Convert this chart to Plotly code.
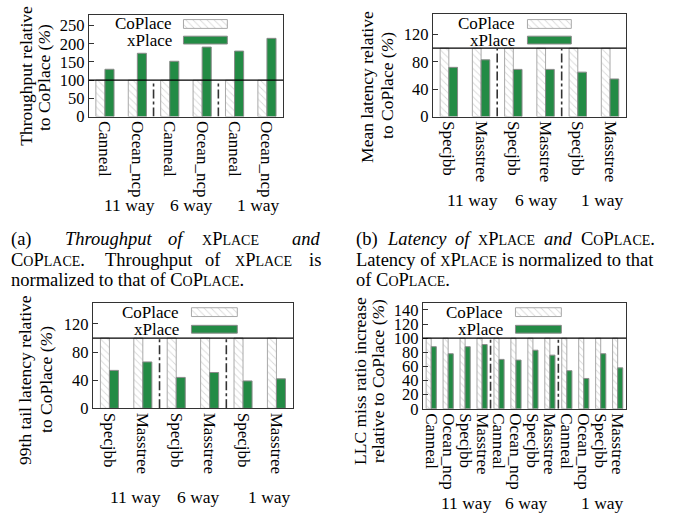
import plotly.graph_objects as go

W, H = 676, 518
FONT = "Liberation Serif"
GREEN = "#238b45"
HATCH = "#b4b4b4"

# ---------------- data ----------------
way_labels = ["11 way", "6 way", "1 way"]

apps_a = ["Canneal", "Ocean_ncp", "Canneal", "Ocean_ncp", "Canneal", "Ocean_ncp"]
coplace_a = [100, 100, 100, 100, 100, 100]
xplace_a = [130, 174, 152, 191, 180, 215]

apps_b = ["Specjbb", "Masstree", "Specjbb", "Masstree", "Specjbb", "Masstree"]
coplace_b = [100, 100, 100, 100, 100, 100]
xplace_b = [72, 83, 69, 69, 65, 55]

apps_c = ["Specjbb", "Masstree", "Specjbb", "Masstree", "Specjbb", "Masstree"]
coplace_c = [100, 100, 100, 100, 100, 100]
xplace_c = [54, 66, 44, 51, 39, 42]

apps_d = ["Canneal", "Ocean_ncp", "Specjbb", "Masstree",
          "Canneal", "Ocean_ncp", "Specjbb", "Masstree",
          "Canneal", "Ocean_ncp", "Specjbb", "Masstree"]
coplace_d = [100] * 12
xplace_d = [88, 78, 88, 91, 70, 69, 83, 76, 54, 43, 78, 58]

yticks_a = [0, 50, 100, 150, 200, 250]
yticks_bc = [0, 40, 80, 120]
yticks_d = [0, 20, 40, 60, 80, 100, 120, 140]

# ---------------- panel geometry (pixels) ----------------
panels = [
    dict(apps=apps_a, co=coplace_a, xp=xplace_a, box=(88, 283, 13, 117.3), ymax=280,
         yticks=yticks_a, bw=0.28,
         title=[("Throughput relative", 25, 75.5), ("to CoPlace (<i>%</i>)", 43, 77)],
         leg_text_x=174, leg_sw=(183, 227), leg_rows=((18, 27), (35, 43)),
         way_y=208, way_x=(129, 191, 258)),
    dict(apps=apps_b, co=coplace_b, xp=xplace_b, box=(433, 627, 12.3, 117.3), ymax=150,
         yticks=yticks_bc, bw=0.27,
         title=[("Mean latency relative", 367, 87), ("to CoPlace (<i>%</i>)", 387, 85)],
         leg_text_x=518, leg_sw=(528, 572), leg_rows=((18, 27), (35, 43)),
         way_y=203, way_x=(473, 537, 603)),
    dict(apps=apps_c, co=coplace_c, xp=xplace_c, box=(92, 293, 308, 416), ymax=150,
         yticks=yticks_bc, bw=0.27,
         title=[("99th tail latency relative", 24, 387), ("to CoPlace (<i>%</i>)", 45, 386)],
         leg_text_x=181, leg_sw=(191, 237), leg_rows=((313, 322), (331, 339)),
         way_y=507, way_x=(135, 198, 269)),
    dict(apps=apps_d, co=coplace_d, xp=xplace_d, box=(423, 627, 308, 416.5), ymax=150,
         yticks=yticks_d, bw=0.3,
         title=[("LLC miss ratio increase", 360, 388), ("relative to CoPlace (<i>%</i>)", 378, 388)],
         leg_text_x=505, leg_sw=(516, 562), leg_rows=((313, 322), (331, 339)),
         way_y=513, way_x=(467, 527, 603)),
]

fig = go.Figure()
annotations = []
shapes = []

co_style = dict(color="white", line=dict(color="#a8a8a8", width=1),
                pattern=dict(shape="\\", fgcolor=HATCH, bgcolor="white", size=5, solidity=0.18))
xp_style = dict(color=GREEN, line=dict(color="#8a8a8a", width=1))

for i, p in enumerate(panels):
    k = "" if i == 0 else str(i + 1)
    xa, ya = "x" + k, "y" + k
    n = len(p["apps"])
    x0, x1, y0, y1 = p["box"]
    ymax = p["ymax"]

    def dx(px, x0=x0, x1=x1, n=n):
        return (px - x0) / (x1 - x0) * n - 0.5

    def dy(py, y0=y0, y1=y1, ymax=ymax):
        return (y1 - py) / (y1 - y0) * ymax

    pos = list(range(n))
    bw = p["bw"]
    fig.add_trace(go.Bar(x=pos, y=p["co"], offset=-bw, width=bw, marker=co_style,
                         xaxis=xa, yaxis=ya, showlegend=False, name="CoPlace"))
    fig.add_trace(go.Bar(x=pos, y=p["xp"], offset=0, width=bw, marker=xp_style,
                         xaxis=xa, yaxis=ya, showlegend=False, name="xPlace"))

    # key swatches
    sx0, sx1 = p["leg_sw"]
    for (ry0, ry1), style, name in zip(p["leg_rows"], (co_style, xp_style), ("CoPlace", "xPlace")):
        fig.add_trace(go.Bar(x=[(dx(sx0) + dx(sx1)) / 2], y=[dy(ry0) - dy(ry1)], base=[dy(ry1)],
                             width=[dx(sx1) - dx(sx0)], marker=style, xaxis=xa, yaxis=ya,
                             showlegend=False, hoverinfo="skip", cliponaxis=False))
        annotations.append(dict(text=name, x=p["leg_text_x"] / W, y=1 - (ry0 + ry1) / 2 / H,
                                xref="paper", yref="paper", xanchor="right", yanchor="middle",
                                showarrow=False, font=dict(family=FONT, size=17, color="black")))

    fig.update_layout(**{
        "xaxis" + k: dict(domain=[x0 / W, x1 / W], range=[-0.5, n - 0.5], anchor=ya,
                          tickvals=pos, ticktext=p["apps"], tickangle=90, ticks="",
                          showline=True, mirror=True, linecolor="#333", linewidth=1,
                          showgrid=False, zeroline=False,
                          tickfont=dict(family=FONT, size=17, color="black")),
        "yaxis" + k: dict(domain=[1 - y1 / H, 1 - y0 / H], range=[0, ymax], anchor=xa,
                          tickvals=p["yticks"], ticks="inside", ticklen=5, tickcolor="#333",
                          showline=True, mirror=True, linecolor="#333", linewidth=1,
                          showgrid=False, zeroline=False,
                          tickfont=dict(family=FONT, size=16.5, color="black")),
    })

    # reference line at 100 (bottom of the key box)
    shapes.append(dict(type="line", xref=xa + " domain", yref=ya, x0=0, x1=1, y0=100, y1=100,
                       line=dict(color="black", width=1.3), layer="above"))
    # separators between cache-way groups
    per = n // 3
    for b in (per - 0.5, 2 * per - 0.5):
        shapes.append(dict(type="line", xref=xa, yref=ya, x0=b, x1=b, y0=0, y1=100,
                           line=dict(color="#333", width=1.6, dash="dashdot"), layer="above"))

    # y title, one annotation per line
    for txt, tx, ty in p["title"]:
        annotations.append(dict(text=txt, x=tx / W, y=1 - ty / H, xref="paper", yref="paper",
                                xanchor="center", yanchor="middle", textangle=-90,
                                showarrow=False, font=dict(family=FONT, size=17.5, color="black")))
    # way labels
    for lab, wx in zip(way_labels, p["way_x"]):
        annotations.append(dict(text=lab, x=wx / W, y=1 - p["way_y"] / H, xref="paper",
                                yref="paper", xanchor="center", yanchor="middle",
                                showarrow=False, font=dict(family=FONT, size=17.5, color="black")))


# ---------------- captions ----------------
CAP = 18.5
SMALL = 14


def sc(word):
    """Render a word in small caps."""
    out, buf, low = [], "", None
    for ch in word:
        is_low = ch.islower()
        if low is None or is_low == low:
            buf += ch
        else:
            out.append((buf, low))
            buf = ch
        low = is_low
    out.append((buf, low))
    s = ""
    for seg, is_low in out:
        if is_low:
            s += "<span style='font-size:%spx'>%s</span>" % (SMALL, seg.upper())
        else:
            s += seg
    return s


# justified caption lines are set word by word: (text, x_left, y_center)
caption_words = [
    ("(a)", 8, 243), ("<i>Throughput</i>", 62, 243), ("<i>of</i>", 165, 243),
    (sc("xPlace"), 200, 243), ("<i>and</i>", 290, 243),
    (sc("CoPlace") + ".", 8, 264), ("Throughput", 102, 264), ("of", 203, 264),
    (sc("xPlace"), 233, 264), ("is", 307, 264),
    ("normalized to that of " + sc("CoPlace") + ".", 8, 285),
    ("(b)", 354, 243), ("<i>Latency</i>", 385, 243), ("<i>of</i>", 453, 243),
    (sc("xPlace"), 476.5, 243), ("<i>and</i>", 543, 243), (sc("CoPlace") + ".", 580, 243),
    ("Latency of " + sc("xPlace") + " is normalized to that", 354, 264),
    ("of " + sc("CoPlace") + ".", 354, 285),
]
for txt, cx, cy in caption_words:
    annotations.append(dict(text=txt, x=cx / W, y=1 - cy / H, xref="paper", yref="paper",
                            xanchor="left", yanchor="middle", showarrow=False,
                            font=dict(family=FONT, size=CAP, color="black")))

fig.update_layout(width=W, height=H, autosize=False, margin=dict(l=0, r=0, t=0, b=0),
                  paper_bgcolor="white", plot_bgcolor="white", barmode="overlay",
                  annotations=annotations, shapes=shapes,
                  font=dict(family=FONT, size=16, color="black"))

fig.write_html("out.html")
